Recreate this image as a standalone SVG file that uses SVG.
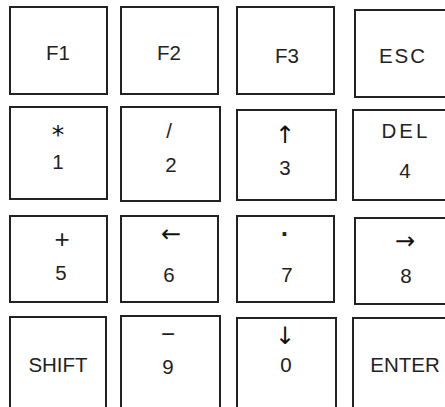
<svg xmlns="http://www.w3.org/2000/svg" width="445" height="407" viewBox="0 0 445 407">
<style>
.k{fill:#fff;stroke:#222;stroke-width:2}
.t{font-family:"Liberation Sans",Arial,sans-serif;font-size:20.5px;fill:#222;text-anchor:middle}
.s{font-family:"DejaVu Sans","Liberation Sans",sans-serif;font-size:24px;fill:#111;text-anchor:middle}
</style>
<rect width="445" height="407" fill="#fff"/>
<g id="key-f1"><rect class="k" x="10" y="7" width="97" height="87"/><text class="t" x="58" y="60">F1</text></g>
<g id="key-f2"><rect class="k" x="121" y="7" width="97" height="87"/><text class="t" x="169" y="60">F2</text></g>
<g id="key-f3"><rect class="k" x="237" y="7" width="97" height="87"/><text class="t" x="287" y="63">F3</text></g>
<g id="key-esc"><rect class="k" x="355" y="10" width="100" height="87"/><text class="t" x="403" y="63" letter-spacing="2">ESC</text></g>

<g id="key-1"><rect class="k" x="10" y="107" width="97" height="92"/><text class="s" x="58" y="143" style="font-size:25px">*</text><text class="t" x="58" y="169">1</text></g>
<g id="key-2"><rect class="k" x="121" y="107" width="99" height="94"/><text class="t" x="169" y="138">/</text><text class="t" x="171" y="172">2</text></g>
<g id="key-3"><rect class="k" x="237" y="110" width="99" height="90"/><text class="s" x="285" y="143">↑</text><text class="t" x="285" y="175">3</text></g>
<g id="key-4"><rect class="k" x="353" y="110" width="102" height="90"/><text class="t" x="406" y="138" letter-spacing="3">DEL</text><text class="t" x="405" y="178">4</text></g>

<g id="key-5"><rect class="k" x="10" y="216" width="97" height="86"/><text class="t" x="62" y="248" style="font-size:26px">+</text><text class="t" x="61" y="280">5</text></g>
<g id="key-6"><rect class="k" x="121" y="216" width="97" height="86"/><text class="s" x="171" y="242">←</text><text class="t" x="169" y="282">6</text></g>
<g id="key-7"><rect class="k" x="237" y="216" width="97" height="86"/><text class="t" x="285" y="243" style="font-size:26px;font-weight:bold">·</text><text class="t" x="287" y="282">7</text></g>
<g id="key-8"><rect class="k" x="355" y="218" width="100" height="86"/><text class="s" x="405" y="249">→</text><text class="t" x="406" y="283">8</text></g>

<g id="key-shift"><rect class="k" x="10" y="317" width="96" height="100"/><text class="t" x="58" y="372">SHIFT</text></g>
<g id="key-9"><rect class="k" x="121" y="316" width="99" height="100"/><text class="t" x="168" y="342" style="font-size:24px">−</text><text class="t" x="168" y="374">9</text></g>
<g id="key-0"><rect class="k" x="237" y="318" width="99" height="100"/><text class="s" x="285" y="344">↓</text><text class="t" x="286" y="372">0</text></g>
<g id="key-enter"><rect class="k" x="353" y="318" width="102" height="100"/><text class="t" x="405" y="372">ENTER</text></g>
<g id="connectors"/>
</svg>
